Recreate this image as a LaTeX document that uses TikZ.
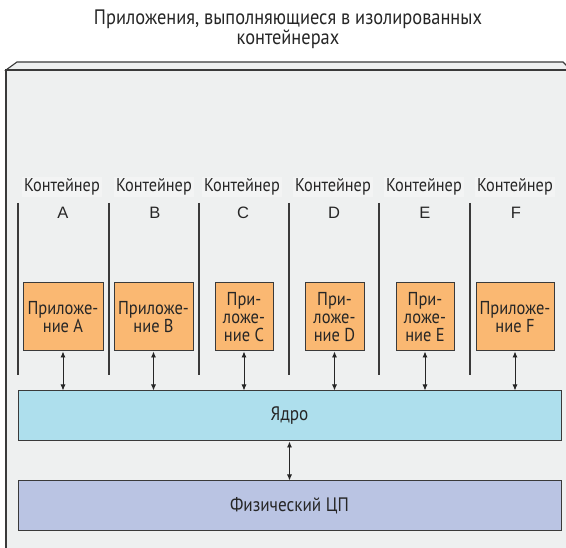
\documentclass[tikz,border=0pt]{standalone}
\usepackage{fontspec}
\setmainfont[FakeStretch=0.88]{PT Sans}
\newfontfamily\letterfont{Liberation Sans}
\usetikzlibrary{arrows.meta}

\definecolor{framefill}{HTML}{EEF0F0}
\definecolor{frameline}{HTML}{3A3A3A}
\definecolor{appfill}{HTML}{FAB872}
\definecolor{kernelfill}{HTML}{AEDFED}
\definecolor{cpufill}{HTML}{BAC4E3}
\definecolor{textcol}{HTML}{262626}
\definecolor{labelfill}{HTML}{F3F4F4}

\tikzset{
  appbox/.style={draw=frameline, line width=1pt, fill=appfill, inner sep=0pt,
    align=center, text=textcol, minimum height=68pt,
    font=\fontsize{18.7}{18}\selectfont},
  layerbox/.style={draw=frameline, line width=1pt, minimum width=543pt,
    minimum height=50pt, inner sep=0pt, text=textcol,
    font=\fontsize{19.5}{20}\selectfont},
  divider/.style={draw=frameline, line width=1.1pt},
  link/.style={{Latex[length=6pt,width=5pt]}-{Latex[length=6pt,width=5pt]},
    line width=0.9pt, draw=textcol},
  ctrlabel/.style={fill=labelfill, text=textcol, inner sep=2pt,
    font=\fontsize{18.5}{18}\selectfont},
  ctrletter/.style={text=textcol, inner sep=1pt,
    font=\letterfont\fontsize{16.5}{18}\selectfont},
  titletext/.style={text=textcol, align=center,
    font=\fontsize{20.9}{18}\selectfont},
}

\begin{document}
\begin{tikzpicture}[x=1pt, y=-1pt]
  \clip (0,0) rectangle (566,548);
  \fill[white] (0,0) rectangle (566,548);

  % title
  \node[titletext] (title) at (288,29)
    {Приложения, выполняющиеся в изолированных\\контейнерах};

  % host frame drawn as a box seen slightly from above
  \filldraw[fill=framefill, draw=frameline, line width=1.1pt]
    (6,70) -- (17,62) -- (563,62) -- (568,67) -- (568,70) -- cycle;
  \filldraw[fill=framefill, draw=frameline, line width=1.1pt]
    (570,70) -- (6,70) -- (6,560) -- (570,560);

  % container dividers
  \foreach \x in {18,109,199,289,379,470}
    \draw[divider] (\x,203) -- (\x,375);

  % container labels
  \foreach \n/\x/\l in {A/62/A, B/154/B, C/242/C, D/333/D, E/424/E, F/515/F}{
    \node[ctrlabel] (ctr\n) at (\x,187) {Контейнер};
    \node[ctrletter] (let\n) at (\x+1,213) {\l};
  }

  % applications
  \node[appbox, minimum width=80pt] (appA) at (63,317) {Приложе-\\ние A};
  \node[appbox, minimum width=79pt] (appB) at (153.5,317) {Приложе-\\ние B};
  \node[appbox, minimum width=58pt] (appC) at (244,317) {При-\\ложе-\\ние C};
  \node[appbox, minimum width=59pt] (appD) at (334.5,317) {При-\\ложе-\\ние D};
  \node[appbox, minimum width=58pt] (appE) at (425,317) {При-\\ложе-\\ние E};
  \node[appbox, minimum width=78pt] (appF) at (515,317) {Приложе-\\ние F};

  % kernel and hardware layers
  \node[layerbox, fill=kernelfill] (kernel) at (289.5,416) {Ядро};
  \node[layerbox, fill=cpufill] (cpu) at (289.5,506) {Физический ЦП};

  % links
  \foreach \n in {A,B,C,D,E,F}
    \draw[link] (app\n.south) -- (app\n.south |- kernel.north);
  \draw[link] (kernel.south) -- (cpu.north);
\end{tikzpicture}
\end{document}
